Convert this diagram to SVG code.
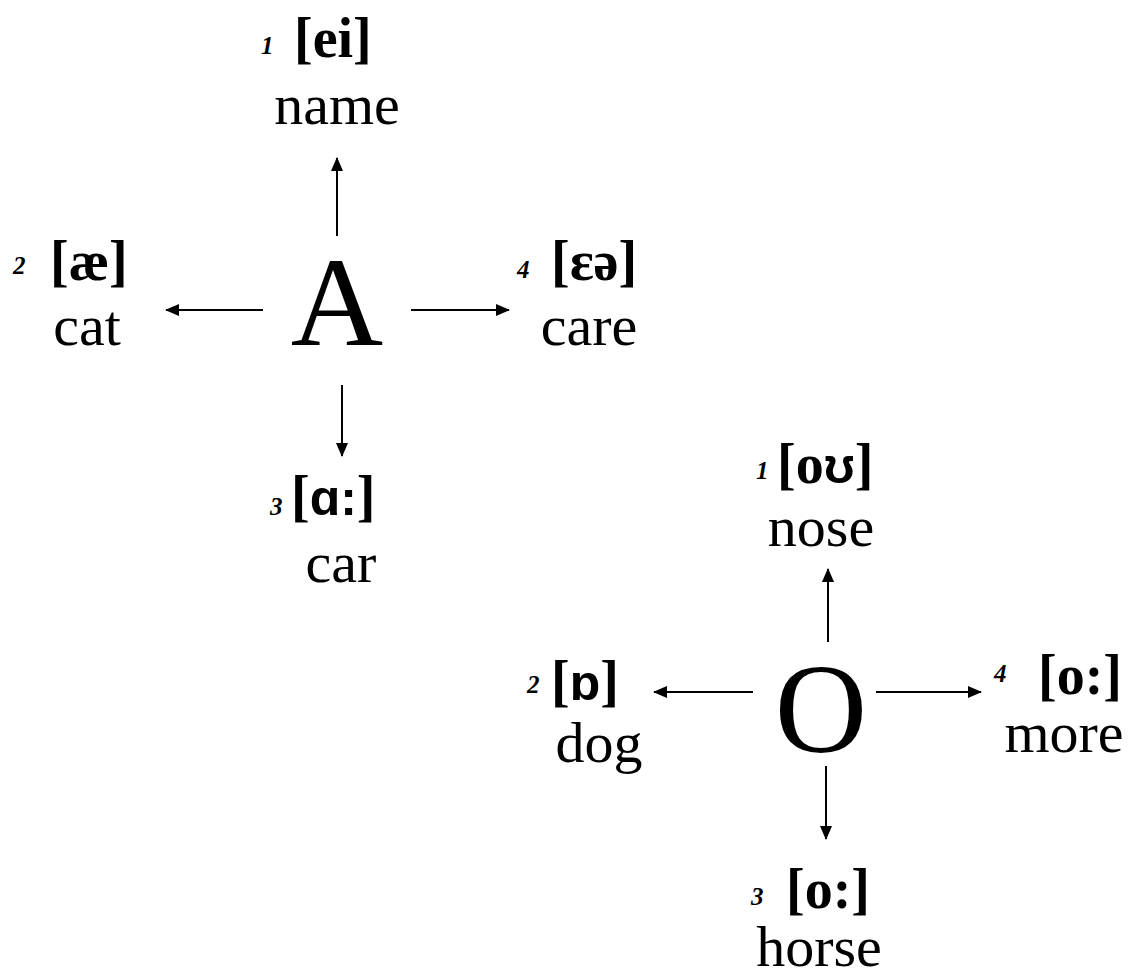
<svg xmlns="http://www.w3.org/2000/svg" width="1131" height="976" viewBox="0 0 1131 976">
  <style>
    text { font-family: "Liberation Serif", "Times New Roman", serif; fill: #000; }
    .word { font-size: 58px; text-anchor: middle; }
    .big { font-size: 128px; text-anchor: middle; }
    .ipa { font-size: 56px; font-weight: bold; }
    .num { font-size: 25px; font-weight: bold; font-style: italic; }
    .sans { font-family: "Liberation Sans", Arial, sans-serif; font-size: 50px; }
    .arrow { stroke: #000; stroke-width: 2; fill: none; marker-end: url(#head); }
  </style>
  <defs>
    <marker id="head" markerUnits="userSpaceOnUse" markerWidth="14" markerHeight="12" refX="13" refY="6" orient="auto">
      <path d="M0,0 L14,6 L0,12 Z" fill="#000"/>
    </marker>
  </defs>
  <rect width="1131" height="976" fill="#fff"/>

  <!-- letter A -->
  <g id="node-A">
    <text class="big" x="337" y="345">A</text>
  </g>
  <g id="node-A1">
    <text class="num" x="261" y="54">1</text>
    <text class="ipa" x="294" y="57">[ei]</text>
    <text class="word" x="337" y="124">name</text>
  </g>
  <g id="node-A2">
    <text class="num" x="13" y="274">2</text>
    <text class="ipa" x="50" y="280">[æ]</text>
    <text class="word" x="87" y="345">cat</text>
  </g>
  <g id="node-A3">
    <text class="num" x="270" y="515">3</text>
    <text class="ipa" x="291" y="515">[<tspan class="sans">ɑ:</tspan>]</text>
    <text class="word" x="341" y="582">car</text>
  </g>
  <g id="node-A4">
    <text class="num" x="517" y="278">4</text>
    <text class="ipa" x="551" y="280">[ɛə]</text>
    <text class="word" x="589" y="345">care</text>
  </g>

  <!-- letter O -->
  <g id="node-O">
    <text class="big" x="821" y="752">O</text>
  </g>
  <g id="node-O1">
    <text class="num" x="756" y="479">1</text>
    <text class="ipa" x="777" y="483">[o<tspan class="sans">ʊ</tspan>]</text>
    <text class="word" x="821" y="546">nose</text>
  </g>
  <g id="node-O2">
    <text class="num" x="527" y="693">2</text>
    <text class="ipa" x="551" y="700">[<tspan class="sans">ɒ</tspan>]</text>
    <text class="word" x="599" y="762">dog</text>
  </g>
  <g id="node-O3">
    <text class="num" x="751" y="905">3</text>
    <text class="ipa" x="786" y="908">[o:]</text>
    <text class="word" x="819" y="966">horse</text>
  </g>
  <g id="node-O4">
    <text class="num" x="994" y="682">4</text>
    <text class="ipa" x="1038" y="694">[o:]</text>
    <text class="word" x="1064" y="752">more</text>
  </g>

  <g id="connectors">
    <line class="arrow" x1="337" y1="236" x2="337" y2="158"/>
    <line class="arrow" x1="263" y1="310" x2="166" y2="310"/>
    <line class="arrow" x1="411" y1="310" x2="509" y2="310"/>
    <line class="arrow" x1="342" y1="385" x2="342" y2="456"/>
    <line class="arrow" x1="828" y1="642" x2="828" y2="569"/>
    <line class="arrow" x1="753" y1="692" x2="654" y2="692"/>
    <line class="arrow" x1="876" y1="692" x2="981" y2="692"/>
    <line class="arrow" x1="826" y1="766" x2="826" y2="839"/>
  </g>
</svg>
